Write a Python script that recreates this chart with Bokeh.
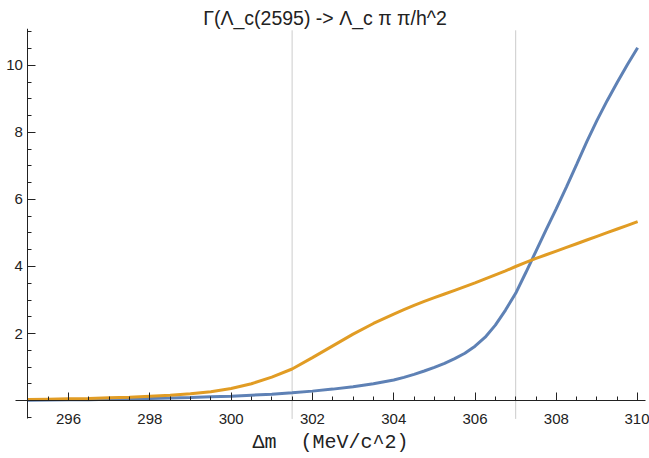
from bokeh.plotting import figure
from bokeh.models import FixedTicker, Range1d
from bokeh.embed import file_html
from bokeh.resources import INLINE

# Delta m (MeV/c^2)
dm = [295.0, 295.5, 296.0, 296.5, 297.0, 297.5, 298.0, 298.5, 299.0, 299.5,
      300.0, 300.5, 301.0, 301.5, 302.0, 302.5, 303.0, 303.5, 304.0, 304.25,
      304.5, 304.75, 305.0, 305.25, 305.5, 305.75, 306.0, 306.25, 306.5, 306.75,
      307.0, 307.25, 307.5, 307.75, 308.0, 308.25, 308.5, 308.75, 309.0, 309.25,
      309.5, 309.75, 310.0]

# blue curve
gamma_blue = [0.01, 0.012, 0.02, 0.025, 0.035, 0.045, 0.06, 0.075, 0.09, 0.11,
              0.13, 0.16, 0.19, 0.23, 0.28, 0.34, 0.41, 0.50, 0.61, 0.69,
              0.78, 0.88, 0.99, 1.11, 1.25, 1.41, 1.62, 1.89, 2.25, 2.70,
              3.20, 3.82, 4.46, 5.10, 5.73, 6.38, 7.05, 7.73, 8.36, 8.95,
              9.50, 10.03, 10.53]

# orange curve
gamma_orange = [0.03, 0.04, 0.05, 0.06, 0.08, 0.10, 0.13, 0.16, 0.20, 0.26,
                0.36, 0.50, 0.70, 0.94, 1.28, 1.63, 1.98, 2.30, 2.58, 2.71,
                2.84, 2.96, 3.07, 3.18, 3.29, 3.40, 3.51, 3.63, 3.75, 3.87,
                4.00, 4.12, 4.24, 4.35, 4.46, 4.57, 4.68, 4.79, 4.90, 5.01,
                5.12, 5.23, 5.34]

thresholds = [301.5, 307.0]
x_major = [296, 298, 300, 302, 304, 306, 308, 310]
x_minor = [295.0 + 0.5 * i for i in range(31)]
y_major = [2, 4, 6, 8, 10]
y_minor = [-0.5 + 0.5 * i for i in range(24)]

p = figure(width=649, height=458,
           x_range=Range1d(294.326, 310.292), y_range=Range1d(-1.731, 11.104),
           output_backend="svg", toolbar_location=None,
           title="Γ(Λ_c(2595) -> Λ_c π π/h^2")
p.min_border_left = 0
p.min_border_right = 0
p.min_border_top = 28
p.min_border_bottom = 0
p.outline_line_color = None
p.background_fill_color = "white"
p.border_fill_color = "white"
p.xgrid.visible = False
p.ygrid.visible = False

p.title.align = "center"
p.title.offset = 6
p.title.text_font = "Liberation Sans"
p.title.text_font_size = "19.5px"
p.title.text_font_style = "normal"
p.title.text_color = "#222222"
p.title.standoff = 0

for ax in (p.xaxis[0], p.yaxis[0]):
    ax.axis_line_color = "#222222"
    ax.axis_line_width = 1
    ax.major_tick_line_color = "#222222"
    ax.minor_tick_line_color = "#222222"
    ax.major_tick_in = 8
    ax.major_tick_out = 0
    ax.minor_tick_in = 4
    ax.minor_tick_out = 0
    ax.major_label_text_font = "Liberation Sans"
    ax.major_label_text_font_size = "15px"
    ax.major_label_text_color = "#222222"

p.xaxis.fixed_location = 0
p.yaxis.fixed_location = 295
p.xaxis.bounds = (294.69, 310.19)
p.yaxis.bounds = (-0.55, 11.104)
p.xaxis.ticker = FixedTicker(ticks=x_major, minor_ticks=x_minor)
p.yaxis.ticker = FixedTicker(ticks=y_major, minor_ticks=y_minor)
p.xaxis.major_label_standoff = 13
p.yaxis.major_label_standoff = 5
p.xaxis.axis_label = "Δm \u00a0(MeV/c^2)"
p.xaxis.axis_label_text_font = "Liberation Mono"
p.xaxis.axis_label_text_font_size = "20px"
p.xaxis.axis_label_text_font_style = "normal"
p.xaxis.axis_label_text_color = "#222222"
p.xaxis.axis_label_standoff = 4

# threshold lines
p.segment(x0=thresholds, y0=[-0.55] * len(thresholds),
          x1=thresholds, y1=[11.05] * len(thresholds),
          line_color="#cccccc", line_width=1, level="underlay")

p.line(dm, gamma_blue, line_color="#5E81B5", line_width=3)
p.line(dm, gamma_orange, line_color="#E19C24", line_width=3)

open("out.html", "w").write(file_html(p, INLINE))
